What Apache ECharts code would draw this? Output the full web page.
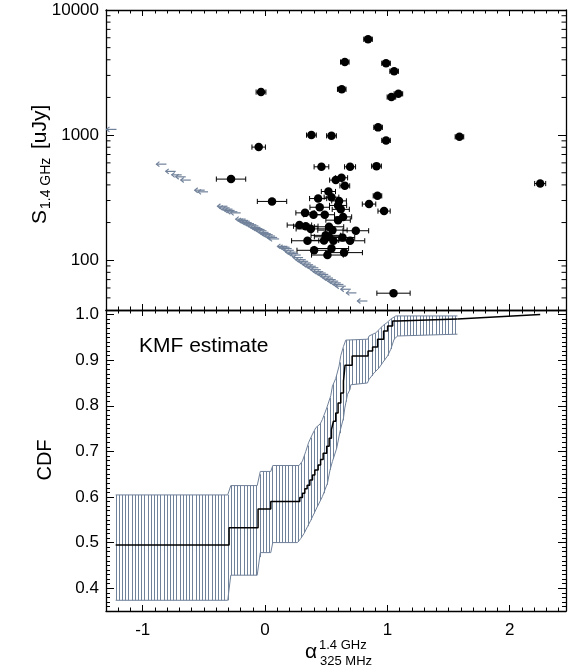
<!DOCTYPE html>
<html><head><meta charset="utf-8">
<script src="https://cdn.jsdelivr.net/npm/echarts@6/dist/echarts.min.js"></script>
<style>html,body{margin:0;padding:0;background:#fff}#c{width:571px;height:670px}</style>
</head><body><div id="c"></div>
<script>
// ---------- data ----------
const detAlpha = [0.842,0.652,0.989,1.055,0.627,1.033,1.090,0.924,0.379,0.543,0.989,1.589,-0.033,-0.052,-0.278,0.057,
  0.461,0.695,0.911,2.249,0.578,0.625,0.652,0.518,0.919,0.434,0.543,0.605,0.850,0.973,0.447,0.597,0.619,0.327,0.396,0.488,
  0.638,0.597,0.281,0.333,0.374,0.523,0.551,0.742,0.496,0.523,0.633,0.347,0.482,0.559,0.695,0.401,0.543,0.510,0.646,1.050];
const detFlux = [5834,3837,3750,3236,2323,2014,2138,1153,1000,987,907,969,2208,802,445,295,
  558,558,565,410,437,456,393,354,327,311,319,298,281,247,265,274,255,239,231,231,
  222,209,191,187,178,185,174,172,158,154,152,143,144,143,143,120,124,110,115,54.5];
const detErr = [0.035,0.035,0.035,0.035,0.035,0.035,0.035,0.035,0.040,0.040,0.035,0.035,0.040,0.055,0.120,0.120,
  0.060,0.045,0.040,0.045,0.050,0.050,0.040,0.058,0.035,0.070,0.060,0.060,0.055,0.050,0.080,0.070,0.070,0.075,0.080,0.080,
  0.070,0.100,0.100,0.100,0.120,0.120,0.120,0.105,0.120,0.120,0.100,0.130,0.120,0.120,0.120,0.140,0.140,0.130,0.150,0.136];

const limAlpha = [-1.255,-0.847,-0.771,-0.722,-0.689,-0.648,-0.534,-0.507,
  -0.348,-0.330,-0.307,-0.290,-0.267,-0.240,-0.199,-0.180,-0.166,-0.150,-0.131,-0.112,-0.095,-0.078,-0.062,-0.045,
  -0.029,-0.012,0.006,0.022,0.041,0.058,0.074,0.142,0.160,0.177,0.195,0.210,0.230,0.251,0.270,0.292,0.312,0.333,
  0.352,0.374,0.395,0.415,0.435,0.455,0.476,0.496,0.515,0.537,0.557,0.578,0.600,0.619,0.660,0.706,0.796];
const limFlux = [1111,586,513,481,464,437,363,352,
  270,262,256,250,244,239,213,208,205,200,196,192,188,183,179,176,
  172,167,163,160,156,152,148,129,127,124,120,116,113,110,105,101,98,95,
  92,89.5,87,84,81,79,77,74.5,72,70,68,65.9,64,62,58.6,54.8,47.2];

const cdfX = [-1.221,-0.294,-0.057,0.047,0.284,0.306,0.325,0.344,0.366,0.388,0.407,0.434,0.454,0.475,0.504,0.524,
  0.543,0.559,0.578,0.597,0.619,0.641,0.654,0.712,0.842,0.879,0.920,0.969,1.002,1.043,1.083,1.573];
const cdfY = [0.4945,0.5326,0.5737,0.590,0.599,0.608,0.618,0.626,0.637,0.648,0.659,0.670,0.682,0.696,0.711,0.729,
  0.748,0.766,0.784,0.806,0.828,0.854,0.889,0.909,0.920,0.929,0.946,0.964,0.975,0.986,0.990,0.990];
const cdfTailX = [1.573, 2.249];
const cdfTailY = [0.990, 1.000];

const bandUpX = [-1.221,-0.305,-0.280,-0.064,-0.039,0.047,0.063,0.278,0.306,0.333,0.357,0.388,0.415,0.450,0.469,0.504,
  0.537,0.551,0.578,0.605,0.619,0.641,0.660,0.840,0.850,0.905,0.932,0.960,0.995,1.028,1.069,1.573];
const bandUpY = [0.6045,0.6045,0.625,0.625,0.656,0.656,0.669,0.669,0.679,0.700,0.720,0.738,0.752,0.760,0.770,0.795,
  0.822,0.843,0.860,0.887,0.910,0.930,0.944,0.946,0.953,0.960,0.967,0.975,0.982,0.990,0.997,0.997];
const bandLoX = [-1.221,-0.305,-0.280,-0.064,-0.039,0.047,0.063,0.265,0.292,0.319,0.347,0.374,0.401,0.428,0.469,0.510,
  0.531,0.551,0.586,0.613,0.641,0.652,0.674,0.695,0.701,0.837,0.850,0.891,0.932,0.960,1.001,1.028,1.055,1.083,1.573];
const bandLoY = [0.3735,0.3735,0.4285,0.4285,0.478,0.478,0.500,0.500,0.509,0.520,0.535,0.549,0.564,0.579,0.601,0.630,
  0.659,0.678,0.707,0.744,0.773,0.795,0.825,0.836,0.846,0.850,0.858,0.872,0.883,0.894,0.909,0.924,0.946,0.953,0.957];

const logMinorTicks = [50,60,70,80,90,200,300,400,500,600,700,800,900,2000,3000,4000,5000,6000,7000,8000,9000];
const xRange = [-1.3, 2.46];
const fluxRange = [40, 10000];
const cdfRange = [0.35, 1.01];

// ---------- styling ----------
const FONT = '"Liberation Sans", Arial, Helvetica, sans-serif';
const GRAY = '#70819a';
const AXW = 1.3;

function xAx(grid, pos, showLabel) {
  return {
    type: 'value', gridIndex: grid, position: pos, min: xRange[0], max: xRange[1], splitNumber: 4,
    axisLine: { show: true, onZero: false, lineStyle: { color: '#000', width: AXW } },
    axisTick: { show: true, inside: true, length: 6, lineStyle: { color: '#000', width: 1 } },
    minorTick: { show: true, splitNumber: 10, length: 3.5, lineStyle: { color: '#000', width: 1 } },
    splitLine: { show: false }, minorSplitLine: { show: false },
    axisLabel: { show: showLabel, margin: 11, color: '#000', fontSize: 17, fontFamily: FONT,
      formatter: v => Math.abs(v - Math.round(v)) < 1e-6 ? String(Math.round(v)) : '' }
  };
}
function yLog(pos, showLabel) {
  return {
    type: 'log', logBase: 10, gridIndex: 0, position: pos, min: fluxRange[0], max: fluxRange[1],
    axisLine: { show: true, onZero: false, lineStyle: { color: '#000', width: AXW } },
    axisTick: { show: true, inside: true, length: 8, lineStyle: { color: '#000', width: 1 } },
    minorTick: { show: false }, splitLine: { show: false },
    axisLabel: { show: showLabel, margin: 7, color: '#000', fontSize: 17, fontFamily: FONT,
      formatter: v => { const l = Math.log10(v); return Math.abs(l - Math.round(l)) < 1e-6 ? String(Math.round(v)) : ''; } }
  };
}
function yCdf(pos, showLabel) {
  return {
    type: 'value', gridIndex: 1, position: pos, min: cdfRange[0], max: cdfRange[1], splitNumber: 6,
    axisLine: { show: true, onZero: false, lineStyle: { color: '#000', width: AXW } },
    axisTick: { show: true, inside: true, length: 8, lineStyle: { color: '#000', width: 1 } },
    minorTick: { show: true, splitNumber: 10, length: 4, lineStyle: { color: '#000', width: 1 } },
    splitLine: { show: false }, minorSplitLine: { show: false },
    axisLabel: { show: showLabel, margin: 7, color: '#000', fontSize: 17, fontFamily: FONT,
      formatter: v => Math.abs(v * 10 - Math.round(v * 10)) < 1e-6 ? v.toFixed(1) : '' }
  };
}

function interpAt(pts, px) {
  for (let i = 1; i < pts.length; i++) {
    if (px <= pts[i][0]) {
      const a = pts[i - 1], b = pts[i];
      const t = b[0] === a[0] ? 1 : (px - a[0]) / (b[0] - a[0]);
      return a[1] + t * (b[1] - a[1]);
    }
  }
  return pts[pts.length - 1][1];
}

const chart = echarts.init(document.getElementById('c'), null, { renderer: 'canvas' });
chart.setOption({
  animation: false,
  backgroundColor: '#fff',
  grid: [
    { left: 106, right: 5, top: 10, height: 300 },
    { left: 106, right: 5, top: 310, height: 301 }
  ],
  xAxis: [xAx(0, 'bottom', false), xAx(0, 'top', false), xAx(1, 'bottom', true), xAx(1, 'top', false)],
  yAxis: [yLog('left', true), yLog('right', false), yCdf('left', true), yCdf('right', false)],
  series: [
    { // log minor ticks (left and right edges)
      type: 'custom', xAxisIndex: 0, yAxisIndex: 0, silent: true, z: 5,
      data: logMinorTicks.map(v => [xRange[0], v]),
      encode: { x: 0, y: 1 },
      renderItem: (p, api) => {
        const v = api.value(1);
        const L = api.coord([xRange[0], v]), R = api.coord([xRange[1], v]);
        const s = { stroke: '#000', lineWidth: 1 };
        return { type: 'group', children: [
          { type: 'line', shape: { x1: L[0], y1: L[1], x2: L[0] + 4.5, y2: L[1] }, style: s },
          { type: 'line', shape: { x1: R[0], y1: R[1], x2: R[0] - 4.5, y2: R[1] }, style: s }
        ] };
      }
    },
    { // upper-limit arrows
      type: 'custom', xAxisIndex: 0, yAxisIndex: 0, silent: true, z: 3,
      data: limAlpha.map((a, i) => [a, limFlux[i]]),
      encode: { x: 0, y: 1 },
      renderItem: (p, api) => {
        const c = api.coord([api.value(0), api.value(1)]);
        const s = { stroke: GRAY, lineWidth: 1.2 };
        const h = c[0] - 5;
        return { type: 'group', children: [
          { type: 'line', shape: { x1: h, y1: c[1], x2: c[0] + 5, y2: c[1] }, style: s },
          { type: 'polyline', shape: { points: [[h + 3, c[1] - 2.5], [h, c[1]], [h + 3, c[1] + 2.5]] }, style: Object.assign({ fill: null }, s) }
        ] };
      }
    },
    { // error bars
      type: 'custom', xAxisIndex: 0, yAxisIndex: 0, silent: true, z: 4,
      data: detAlpha.map((a, i) => [a, detFlux[i], detErr[i]]),
      encode: { x: 0, y: 1 },
      renderItem: (p, api) => {
        const a = api.value(0), f = api.value(1), e = api.value(2);
        const l = api.coord([a - e, f]), r = api.coord([a + e, f]);
        const s = { stroke: '#000', lineWidth: 1 };
        const cap = 2.6;
        return { type: 'group', children: [
          { type: 'line', shape: { x1: l[0], y1: l[1], x2: r[0], y2: r[1] }, style: s },
          { type: 'line', shape: { x1: l[0], y1: l[1] - cap, x2: l[0], y2: l[1] + cap }, style: s },
          { type: 'line', shape: { x1: r[0], y1: r[1] - cap, x2: r[0], y2: r[1] + cap }, style: s }
        ] };
      }
    },
    { // detections
      type: 'scatter', xAxisIndex: 0, yAxisIndex: 0, z: 6, silent: true,
      data: detAlpha.map((a, i) => [a, detFlux[i]]),
      symbol: 'circle', symbolSize: 8.5, itemStyle: { color: '#000', opacity: 1 }
    },
    { // KM confidence band (hatched)
      type: 'custom', xAxisIndex: 2, yAxisIndex: 2, silent: true, z: 3,
      data: [[bandUpX[0], bandUpY[0]]],
      encode: { x: 0, y: 1 },
      renderItem: (p, api) => {
        const up = bandUpX.map((x, i) => api.coord([x, bandUpY[i]]));
        const lo = bandLoX.map((x, i) => api.coord([x, bandLoY[i]]));
        const children = [];
        const x0 = Math.max(up[0][0], lo[0][0]);
        const x1 = Math.min(up[up.length - 1][0], lo[lo.length - 1][0]);
        const s = { stroke: GRAY, lineWidth: 1 };
        for (let px = x0; px <= x1 + 0.01; px += 3.2) {
          const xx = Math.round(px) + 0.5;
          children.push({ type: 'line', shape: { x1: xx, y1: interpAt(up, px), x2: xx, y2: interpAt(lo, px) }, style: s });
        }
        children.push({ type: 'polyline', shape: { points: up }, style: Object.assign({ fill: null }, s) });
        children.push({ type: 'polyline', shape: { points: lo }, style: Object.assign({ fill: null }, s) });
        return { type: 'group', children };
      }
    },
    { // KM estimate
      type: 'line', xAxisIndex: 2, yAxisIndex: 2, z: 5, silent: true, step: 'end',
      data: cdfX.map((x, i) => [x, cdfY[i]]), showSymbol: false, symbol: 'none',
      lineStyle: { color: '#000', width: 1.5 }
    },
    {
      type: 'line', xAxisIndex: 2, yAxisIndex: 2, z: 5, silent: true,
      data: cdfTailX.map((x, i) => [x, cdfTailY[i]]), showSymbol: false, symbol: 'none',
      lineStyle: { color: '#000', width: 1.5 }
    }
  ],
  graphic: [
    { type: 'text', x: 139, y: 346, style: { text: 'KMF estimate', fill: '#000', font: '21px ' + FONT, align: 'left', verticalAlign: 'middle' } },
    { type: 'text', x: 45.5, y: 460, rotation: Math.PI / 2, style: { text: 'CDF', fill: '#000', font: '20px ' + FONT, align: 'center', verticalAlign: 'middle' } },
    { type: 'group', x: 40, y: 158, rotation: Math.PI / 2, children: [
      { type: 'text', x: -66, y: 0, style: { text: 'S', fill: '#000', font: '21px ' + FONT, align: 'left', verticalAlign: 'middle' } },
      { type: 'text', x: -51, y: 6, style: { text: '1.4 GHz', fill: '#000', font: '14px ' + FONT, align: 'left', verticalAlign: 'middle' } },
      { type: 'text', x: 9, y: 0, style: { text: '[uJy]', fill: '#000', font: '21px ' + FONT, align: 'left', verticalAlign: 'middle' } }
    ] },
    { type: 'text', x: 305, y: 652, style: { text: 'α', fill: '#000', font: '21px ' + FONT, align: 'left', verticalAlign: 'middle' } },
    { type: 'text', x: 319, y: 645, style: { text: '1.4 GHz', fill: '#000', font: '13px ' + FONT, align: 'left', verticalAlign: 'middle' } },
    { type: 'text', x: 320, y: 661, style: { text: '325 MHz', fill: '#000', font: '13px ' + FONT, align: 'left', verticalAlign: 'middle' } }
  ]
});
</script>
</body></html>
